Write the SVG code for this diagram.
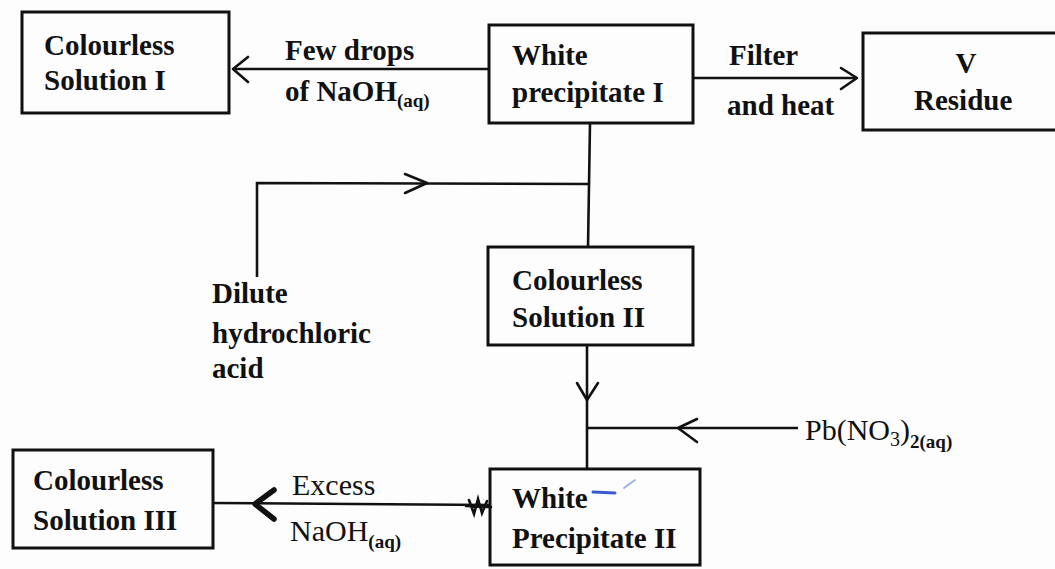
<svg xmlns="http://www.w3.org/2000/svg" width="1055" height="569" viewBox="0 0 1055 569">
<style>
.box{fill:none;stroke:#111;stroke-width:3}
.ln{fill:none;stroke:#111;stroke-width:2.6}
.ah{fill:none;stroke:#111;stroke-width:2.6;stroke-linecap:round;stroke-linejoin:round}
.t{font-family:"Liberation Serif","Times New Roman",serif;font-size:29px;font-weight:bold;fill:#111}
.r{font-family:"Liberation Serif","Times New Roman",serif;font-size:30px;font-weight:normal;fill:#111}
.sb{font-size:19px;font-weight:bold}
.sr{font-size:20px;font-weight:normal}
</style>
<rect width="1055" height="569" fill="#fdfdfd"/>
<g id="connectors">
  <line class="ln" x1="489" y1="69" x2="233" y2="69"/>
  <polyline class="ah" points="248,57 233,69 248,82"/>
  <line class="ln" x1="693" y1="78" x2="857" y2="78"/>
  <polyline class="ah" points="841,68 857,78 841,89"/>
  <line class="ln" x1="590" y1="123" x2="588" y2="247"/>
  <polyline class="ln" points="257,277 257,183 588,184"/>
  <polyline class="ah" points="405,174 427,183 405,193"/>
  <line class="ln" x1="587" y1="345" x2="587" y2="469"/>
  <polyline class="ah" points="577,383 587,400 598,383"/>
  <line class="ln" x1="798" y1="428" x2="587" y2="428"/>
  <polyline class="ah" points="697,419 678,428 697,442"/>
  <line class="ln" x1="490" y1="505" x2="213" y2="503"/>
  <polyline fill="none" stroke="#111" stroke-width="5.5" stroke-linecap="round" stroke-linejoin="round" points="274,490 255,504 274,519"/>
  <path d="M469,500 L474,514 L478,499 L482,513 L487,501 M466,506 L491,507" fill="none" stroke="#111" stroke-width="2.6" stroke-linecap="round"/>
</g>
<g id="node-colourless-solution-1">
  <rect class="box" x="22" y="12" width="207" height="101"/>
  <text class="t" x="44" y="55">Colourless</text>
  <text class="t" x="44" y="90">Solution I</text>
</g>
<g id="label-few-drops">
  <text class="t" x="285" y="60">Few drops</text>
  <text class="t" x="285" y="101">of NaOH<tspan class="sb" dy="6">(aq)</tspan></text>
</g>
<g id="node-white-precipitate-1">
  <rect class="box" x="489" y="25" width="204" height="98"/>
  <text class="t" x="512" y="65">White</text>
  <text class="t" x="512" y="102">precipitate I</text>
</g>
<g id="label-filter">
  <text class="t" x="729" y="65">Filter</text>
  <text class="t" x="727" y="115">and heat</text>
</g>
<g id="node-v-residue">
  <rect class="box" x="863" y="33" width="200" height="97"/>
  <text class="t" x="966" y="73" text-anchor="middle">V</text>
  <text class="t" x="914" y="110">Residue</text>
</g>
<g id="label-dilute-hcl">
  <text class="t" x="212" y="303">Dilute</text>
  <text class="t" x="212" y="343">hydrochloric</text>
  <text class="t" x="212" y="378">acid</text>
</g>
<g id="node-colourless-solution-2">
  <rect class="box" x="488" y="247" width="205" height="98"/>
  <text class="t" x="512" y="290">Colourless</text>
  <text class="t" x="512" y="327">Solution II</text>
</g>
<g id="label-pb-nitrate">
  <text class="r" x="805" y="440">Pb(NO<tspan class="sr" dy="6">3</tspan><tspan dy="-6">)</tspan><tspan class="sb" dy="8">2(aq)</tspan></text>
</g>
<g id="node-white-precipitate-2">
  <rect class="box" x="490" y="469" width="210" height="96"/>
  <text class="t" x="512" y="508">White</text>
  <text class="t" x="512" y="548">Precipitate II</text>
  <path d="M593,492 L615,493" stroke="#3a5bd0" stroke-width="3" stroke-linecap="round" fill="none"/>
  <path d="M624,488 L635,480" stroke="#9ab4e8" stroke-width="2" stroke-linecap="round" fill="none"/>
</g>
<g id="label-excess">
  <text class="r" x="292" y="495">Excess</text>
  <text class="r" x="290" y="541">NaOH<tspan class="sb" dy="7">(aq)</tspan></text>
</g>
<g id="node-colourless-solution-3">
  <rect class="box" x="13" y="450" width="200" height="98"/>
  <text class="t" x="33" y="490">Colourless</text>
  <text class="t" x="33" y="530">Solution III</text>
</g>
</svg>
